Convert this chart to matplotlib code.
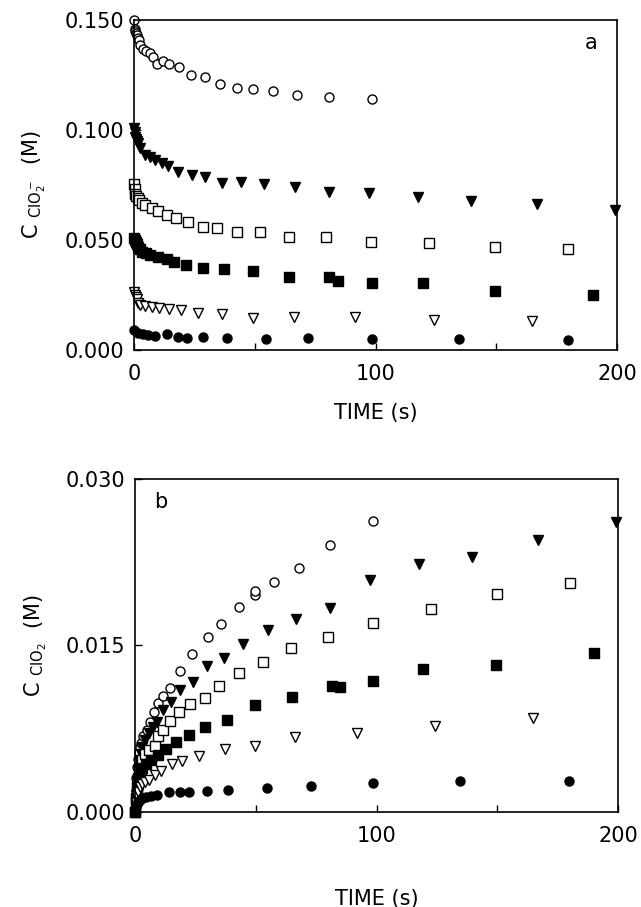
import matplotlib
matplotlib.use("Agg")
import matplotlib.pyplot as plt
from matplotlib.ticker import MultipleLocator, FixedLocator

plt.rcParams['font.family'] = ['DejaVu Sans']

# ---- panel a : chlorite decay ----
ta_oc = [0, 0.3, 0.6, 0.9, 1.2, 1.6, 2.0, 2.5, 3.9, 5.0, 6.6, 8.0, 9.6, 12.0, 14.6,
         18.6, 23.6, 29.5, 35.6, 42.8, 49.4, 57.4, 67.5, 80.5, 98.4]
ca_oc = [0.150, 0.146, 0.145, 0.144, 0.143, 0.142, 0.141, 0.1386, 0.137, 0.136, 0.135,
         0.1333, 0.130, 0.1315, 0.130, 0.1285, 0.125, 0.1243, 0.1209, 0.1192, 0.1188,
         0.1179, 0.1159, 0.1151, 0.1139]

ta_ft = [0, 0.3, 0.6, 0.9, 1.3, 1.8, 2.5, 4.5, 6.6, 8.7, 11.5, 14.2, 18.3, 23.9, 29.4,
         36.3, 44.3, 53.8, 66.7, 80.7, 97.4, 117.5, 139.5, 166.7, 199]
ca_ft = [0.101, 0.099, 0.097, 0.096, 0.095, 0.094, 0.0917, 0.0886, 0.0879, 0.0864,
         0.0848, 0.0836, 0.081, 0.0795, 0.0788, 0.076, 0.0765, 0.0755, 0.0739, 0.072,
         0.0712, 0.0697, 0.0679, 0.0664, 0.0636]

ta_os = [0, 0.3, 0.6, 1.0, 1.5, 2.2, 3.2, 4.5, 7.3, 10, 13.5, 17.4, 22.2, 28.4, 34.5,
         42.6, 52.2, 64.2, 79.5, 98.1, 122.2, 149.5, 179.8]
ca_os = [0.0755, 0.073, 0.071, 0.070, 0.069, 0.068, 0.067, 0.0659, 0.0644, 0.0633,
         0.0614, 0.0601, 0.058, 0.0558, 0.0553, 0.0535, 0.0535, 0.0515, 0.0512, 0.0492,
         0.0488, 0.047, 0.0458]

ta_fs = [0, 0.3, 0.7, 1.1, 1.6, 2.3, 3.2, 4.8, 6.6, 10, 13.5, 16.7, 21.5, 28.4, 37.4,
         49.4, 64.2, 80.5, 84.6, 98.4, 119.4, 149.5, 190]
ca_fs = [0.051, 0.050, 0.049, 0.048, 0.047, 0.046, 0.0447, 0.044, 0.0432, 0.0421,
         0.0412, 0.0401, 0.0386, 0.0371, 0.0367, 0.036, 0.0333, 0.033, 0.0314, 0.0303,
         0.0303, 0.0268, 0.025]

ta_ot = [0, 0.3, 0.7, 1.2, 1.8, 2.5, 4.5, 7.3, 10.5, 14.6, 19.4, 26.4, 36.3, 49.4,
         66.4, 91.5, 124.2, 164.7]
ca_ot = [0.0265, 0.025, 0.024, 0.023, 0.0215, 0.0205, 0.020, 0.0197, 0.019, 0.0185,
         0.0182, 0.0167, 0.0162, 0.0147, 0.0152, 0.0152, 0.0136, 0.0133]

ta_fc = [0, 1.8, 3.9, 5.9, 8.7, 13.5, 18.3, 21.8, 28.4, 38.6, 54.5, 72.2, 98.4,
         134.6, 179.8]
ca_fc = [0.0091, 0.0076, 0.0071, 0.0068, 0.0065, 0.0071, 0.006, 0.0053, 0.006, 0.0053,
         0.005, 0.0053, 0.005, 0.0049, 0.0045]

# ---- panel b : chlorine dioxide formation ----
tb_oc = [0, 0.2, 0.4, 0.7, 1.0, 1.5, 2.0, 2.5, 3.4, 4.8, 6.2, 7.6, 9.6, 11.7, 14.5,
         18.6, 23.7, 30, 35.6, 42.8, 49.7, 49.7, 57.6, 67.9, 80.7, 98.7]
cb_oc = [0.000, 0.0015, 0.003, 0.004, 0.0048, 0.0054, 0.0058, 0.0062, 0.0068, 0.0074,
         0.0081, 0.009, 0.0098, 0.01044, 0.01114, 0.01273, 0.0142, 0.01574, 0.0169,
         0.01845, 0.0195, 0.0199, 0.0207, 0.0220, 0.0240, 0.02618]

tb_ft = [0, 0.3, 0.6, 1.0, 1.5, 2.2, 3.0, 4.2, 5.5, 7.2, 9, 11.7, 14.7, 18.6, 23.9,
         29.9, 36.8, 44.6, 54.8, 66.7, 80.7, 97.3, 117.6, 139.7, 166.7, 199]
cb_ft = [0, 0.0015, 0.0028, 0.0038, 0.0046, 0.0052, 0.0058, 0.0065, 0.0071, 0.0076,
         0.0081, 0.0092, 0.0099, 0.011, 0.0117, 0.0131, 0.01385, 0.0151, 0.0164,
         0.0174, 0.0184, 0.0209, 0.0223, 0.0230, 0.0245, 0.0261]

tb_os = [0, 0.3, 0.6, 1.0, 1.5, 2.2, 3.0, 4.2, 5.8, 8, 9.6, 11.7, 14.5, 18, 22.8, 29,
         34.8, 42.8, 52.9, 64.6, 79.8, 98.7, 122.6, 149.8, 180]
cb_os = [0, 0.0012, 0.0022, 0.003, 0.0036, 0.0042, 0.0047, 0.0052, 0.0056, 0.0059,
         0.0068, 0.0074, 0.0082, 0.009, 0.0097, 0.01024, 0.0113, 0.0125, 0.0135,
         0.0148, 0.01574, 0.017, 0.0183, 0.0196, 0.0206]

tb_fs = [0, 0.3, 0.6, 1.0, 1.5, 2.2, 3.0, 4.5, 6.5, 9.6, 12.7, 16.8, 22.1, 29, 38.2,
         49.7, 64.9, 81.4, 84.9, 98.7, 119.4, 149.5, 190]
cb_fs = [0, 0.001, 0.0018, 0.0025, 0.003, 0.0035, 0.0039, 0.0043, 0.0047, 0.0051,
         0.0057, 0.0063, 0.0069, 0.0076, 0.0083, 0.0096, 0.01033, 0.01135, 0.01128,
         0.0118, 0.0129, 0.0132, 0.01435]

tb_ot = [0, 0.3, 0.7, 1.2, 2.0, 3.0, 4.2, 5.5, 8, 10.8, 15.2, 19.3, 26.6, 37.3, 49.7,
         66.3, 91.8, 124.2, 164.7]
cb_ot = [0, 0.0008, 0.0014, 0.0018, 0.0022, 0.0025, 0.0027, 0.0029, 0.0033, 0.0037,
         0.0043, 0.0046, 0.00506, 0.00566, 0.00596, 0.00677, 0.00713, 0.00777, 0.00843]

tb_fc = [0, 0.3, 0.7, 1.2, 2.0, 3.0, 4.5, 6.5, 9, 13.8, 18.6, 22.1, 29.7, 38.6, 54.5,
         72.9, 98.7, 134.6, 179.8]
cb_fc = [0, 0.0004, 0.0007, 0.0009, 0.0011, 0.0012, 0.0013, 0.0014, 0.0015, 0.00175,
         0.00175, 0.0018, 0.0019, 0.00196, 0.0021, 0.00235, 0.00256, 0.00277, 0.0028]

# marker styles: (marker, facecolor)
styles = {'oc': ('o', 'white'), 'ft': ('v', 'black'), 'os': ('s', 'white'),
          'fs': ('s', 'black'), 'ot': ('v', 'white'), 'fc': ('o', 'black')}

series_a = [('oc', ta_oc, ca_oc), ('ft', ta_ft, ca_ft), ('os', ta_os, ca_os),
            ('fs', ta_fs, ca_fs), ('ot', ta_ot, ca_ot), ('fc', ta_fc, ca_fc)]
series_b = [('oc', tb_oc, cb_oc), ('ft', tb_ft, cb_ft), ('os', tb_os, cb_os),
            ('fs', tb_fs, cb_fs), ('ot', tb_ot, cb_ot), ('fc', tb_fc, cb_fc)]

fig = plt.figure(figsize=(6.41, 9.07), dpi=100)
ax1 = fig.add_axes([0.209, 0.614, 0.754, 0.364])
ax2 = fig.add_axes([0.211, 0.105, 0.753, 0.367])


def draw(ax, series, ymax, yticks, yfmt, xlabelpad):
    for key, t, c in series:
        m, fc = styles[key]
        ms = 7 if m == 'v' else 6.5
        ax.plot(t, c, linestyle='none', marker=m, markersize=ms,
                markerfacecolor=fc, markeredgecolor='black',
                markeredgewidth=1.0, clip_on=False)
    ax.set_xlim(0, 200)
    ax.set_ylim(0, ymax)
    ax.xaxis.set_major_locator(FixedLocator([0, 100, 200]))
    ax.xaxis.set_minor_locator(MultipleLocator(50))
    ax.set_yticks(yticks)
    ax.set_yticklabels([yfmt % v for v in yticks])
    ax.tick_params(which='both', direction='in', length=5, width=1,
                   top=False, right=False, labelsize=15, pad=7)
    ax.tick_params(axis='x', pad=10)
    for s in ax.spines.values():
        s.set_linewidth(1.2)
    ax.set_xlabel('TIME (s)', fontsize=15, labelpad=xlabelpad)


draw(ax1, series_a, 0.150, [0.0, 0.05, 0.10, 0.15], '%.3f', 14)
ax1.set_ylabel(r'C $_{\mathregular{ClO_2^-}}$  (M)', fontsize=15, labelpad=12)
ax1.text(0.945, 0.93, 'a', transform=ax1.transAxes, fontsize=15,
         ha='center', va='center')

draw(ax2, series_b, 0.030, [0.0, 0.015, 0.030], '%.3f', 31)
ax2.set_ylabel(r'C $_{\mathregular{ClO_2}}$  (M)', fontsize=15, labelpad=12)
ax2.text(0.052, 0.93, 'b', transform=ax2.transAxes, fontsize=15,
         ha='center', va='center')

fig.savefig('out.png', dpi=100)
